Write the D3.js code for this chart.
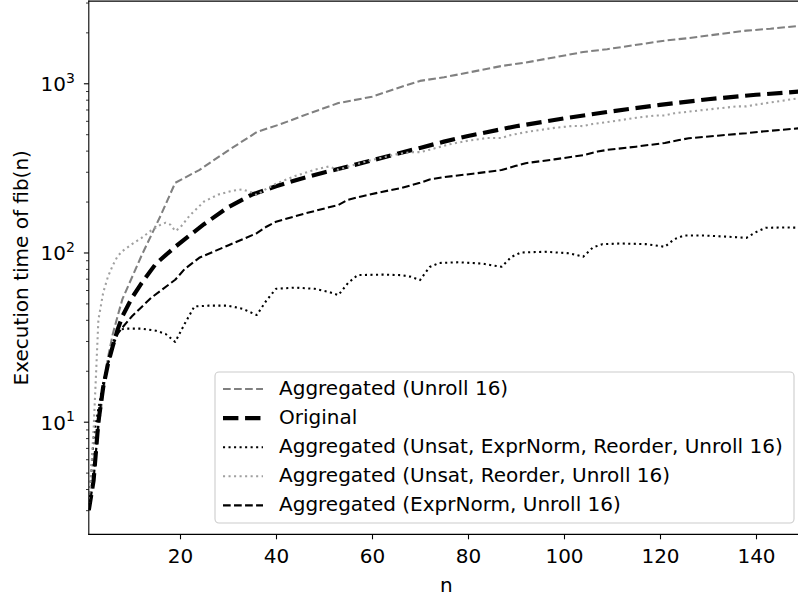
<!DOCTYPE html>
<html><head><meta charset="utf-8">
<script src="https://cdn.jsdelivr.net/npm/d3@7"></script>
<style>
body{margin:0;background:#fff}
text{font-family:"DejaVu Sans",sans-serif;fill:#000}
</style>
</head><body>
<svg id="chart" width="798" height="596"></svg>
<script>
// ---- data ----
const nUnroll = [1,2,3,4,5,6,7,8,12,16,19,24,30,36,41,47,53,60,65,70,75,87,92,104,109,121,126,138,143,150];
const vUnroll = [3,5,9,15,24,33,42,53,96,166,258,307,400,515,574,665,764,833,930,1033,1085,1265,1325,1530,1590,1787,1850,2048,2100,2200];

const nOriginal = [1,2,3,4,5,6,7,8,10,12,15,19,25,30,35,40,45,50,55,60,65,70,75,80,90,100,110,120,130,140,150];
const vOriginal = [3,4.5,10,16,22,28,35,42,54,66,86,108,147,185,220,246,272,297,322,350,382,415,452,488,557,620,683,745,805,855,898];

const nUnsatExprReorder = [1,2,3,4,5,6,7,9,12,15,17,19,21,23,26,30,33,36,38,40,44,48,51,53,55,57,62,66,68,70,72,74,78,83,85,87,89,91,96,101,104,106,108,112,117,119,121,123,125,129,134,136,138,140,142,146,150];
const vUnsatExprReorder = [3,8,12,17,22,29,35,35.5,35.5,34.5,33,29.6,38,48,48.5,48.5,46.5,42.7,52,61,62,61,58.5,56,66,73.5,74,73.5,72,68.7,82,86.7,87.5,86,84,82.4,94,100,101,99,94.4,107,112,113,112,110,108,120,126,126,124,123,122,132,140,140.5,140];

const nUnsatReorder = [1,2,3,4,5,6,7,8,10,12,14,16,17,18,19,20,22,25,28,31,33,35,36,38,40,44,48,51,53,55,60,65,68,70,72,76,80,84,87,89,93,98,102,104,106,110,115,119,121,123,128,133,136,138,140,145,150];
const vUnsatReorder = [3,9,40,58,72,84,95,102,112,122,135,146,150,146,134,140,165,200,220,232,236,226,219,238,255,283,308,322,308,322,352,380,392,392,405,435,458,475,475,495,520,545,560,558,575,595,625,645,645,665,690,715,730,730,748,785,825];

const nExprNorm = [1,2,3,4,5,6,7,8,10,14,19,21,24,30,36,38,40,46,53,55,58,62,66,70,72,75,81,87,90,92,98,104,107,109,115,121,124,126,132,138,141,150];
const vExprNorm = [3,4.5,10,16,22,28,33,36,42,54,69,80,93,110,130,142,152,170,191,205,215,228,240,258,270,279,292,307,325,337,355,376,395,404,422,444,462,473,490,507,518,545];

const seriesLabels = [
  "Aggregated (Unroll 16)",
  "Original",
  "Aggregated (Unsat, ExprNorm, Reorder, Unroll 16)",
  "Aggregated (Unsat, Reorder, Unroll 16)",
  "Aggregated (ExprNorm, Unroll 16)"
];
const xTickValues = [20,40,60,80,100,120,140];
const yMajorTicks = [10,100,1000];
const xLabel = "n";
const yLabel = "Execution time of fib(n)";

// ---- styles ----
const styles = [
  {color:"#808080", width:2.08, dash:"7.7,3.33"},
  {color:"#000000", width:4.17, dash:"15.4,6.67"},
  {color:"#000000", width:2.08, dash:"2.08,3.44"},
  {color:"#a0a0a0", width:2.08, dash:"2.08,3.44"},
  {color:"#000000", width:2.08, dash:"7.7,3.33"}
];

const series = [
  {n:nUnroll, v:vUnroll},
  {n:nOriginal, v:vOriginal},
  {n:nUnsatExprReorder, v:vUnsatExprReorder},
  {n:nUnsatReorder, v:vUnsatReorder},
  {n:nExprNorm, v:vExprNorm}
].map((s,i)=>({label:seriesLabels[i], style:styles[i], pts:s.n.map((n,j)=>[n,s.v[j]])}));

// ---- layout ----
const svg = d3.select("#chart");
const L = 88.8, R = 804, T = 1.1, B = 534.4;
const allV = series.flatMap(s=>s.pts.map(p=>p[1]));
const lo = Math.log10(d3.min(allV)), hi = Math.log10(d3.max(allV)), mg = (hi-lo)*0.05;
const x = d3.scaleLinear().domain([1,150]).range([L,R]);
const y = d3.scaleLog().domain([10**(lo-mg), 10**(hi+mg)]).range([B,T]);

svg.append("defs").append("clipPath").attr("id","clip")
  .append("rect").attr("x",L).attr("y",T).attr("width",R-L).attr("height",B-T);

// lines
const line = d3.line().x(d=>x(d[0])).y(d=>y(d[1]));
const gLines = svg.append("g").attr("clip-path","url(#clip)");
series.forEach(s=>{
  gLines.append("path").datum(s.pts).attr("d",line)
    .attr("fill","none").attr("stroke",s.style.color).attr("stroke-width",s.style.width)
    .attr("stroke-dasharray",s.style.dash).attr("stroke-linejoin","round").attr("stroke-linecap","butt");
});

// x axis
const gx = svg.append("g").attr("transform",`translate(0,${B})`)
  .call(d3.axisBottom(x).tickValues(xTickValues).tickSize(4.9).tickFormat(d3.format("d")));
gx.select(".domain").remove();
gx.selectAll(".tick line").attr("stroke","#000").attr("stroke-width",1.1);
gx.selectAll(".tick text").attr("y",28.6).attr("dy",null).attr("font-size",20).attr("fill","#000")
  .style("font-family","DejaVu Sans");

// y axis major
const gy = svg.append("g").attr("transform",`translate(${L},0)`)
  .call(d3.axisLeft(y).tickValues(yMajorTicks).tickSize(4.9).tickFormat(""));
gy.select(".domain").remove();
gy.selectAll(".tick line").attr("stroke","#000").attr("stroke-width",1.1);
gy.selectAll(".tick text").each(function(d){
  const t = d3.select(this).attr("x",-14).attr("dy",null).attr("y",7.4)
    .attr("font-size",20).attr("text-anchor","end").style("font-family","DejaVu Sans").text("10");
  t.append("tspan").attr("font-size",14).attr("dy",-8.5).text(Math.round(Math.log10(d)));
});
// y axis minor
const [d0,d1] = y.domain();
const minor = [];
for (let e=Math.floor(Math.log10(d0)); e<=Math.ceil(Math.log10(d1)); e++)
  for (let k=2;k<=9;k++){ const v=k*10**e; if(v>=d0 && v<=d1) minor.push(v); }
const gym = svg.append("g").attr("transform",`translate(${L},0)`)
  .call(d3.axisLeft(y).tickValues(minor).tickSize(2.8).tickFormat(""));
gym.select(".domain").remove();
gym.selectAll(".tick line").attr("stroke","#000").attr("stroke-width",0.8);

// spines
const sp = svg.append("g").attr("stroke","#000").attr("stroke-width",1.1).attr("stroke-linecap","square");
sp.append("line").attr("x1",L).attr("x2",L).attr("y1",T).attr("y2",B);
sp.append("line").attr("x1",L).attr("x2",R).attr("y1",B).attr("y2",B);
sp.append("line").attr("x1",L).attr("x2",R).attr("y1",T).attr("y2",T);
sp.append("line").attr("x1",R).attr("x2",R).attr("y1",T).attr("y2",B);

// axis labels
svg.append("text").attr("x",(L+R)/2).attr("y",591.7).attr("text-anchor","middle")
  .attr("font-size",20).text(xLabel);
svg.append("text").attr("transform",`translate(28,${(T+B)/2}) rotate(-90)`)
  .attr("text-anchor","middle").attr("font-size",20).text(yLabel);

// legend
const lg = svg.append("g");
lg.append("rect").attr("x",215).attr("y",372).attr("width",579).attr("height",151)
  .attr("rx",4).attr("fill","#fff").attr("fill-opacity",0.8)
  .attr("stroke","#cccccc").attr("stroke-width",1.1);
series.forEach((s,i)=>{
  const cy = 389 + 29.1*i;
  lg.append("line").attr("x1",223).attr("x2",263).attr("y1",cy).attr("y2",cy)
    .attr("stroke",s.style.color).attr("stroke-width",s.style.width)
    .attr("stroke-dasharray",s.style.dash);
  lg.append("text").attr("x",279).attr("y",cy+6).attr("font-size",20).text(s.label);
});
</script>
</body></html>
